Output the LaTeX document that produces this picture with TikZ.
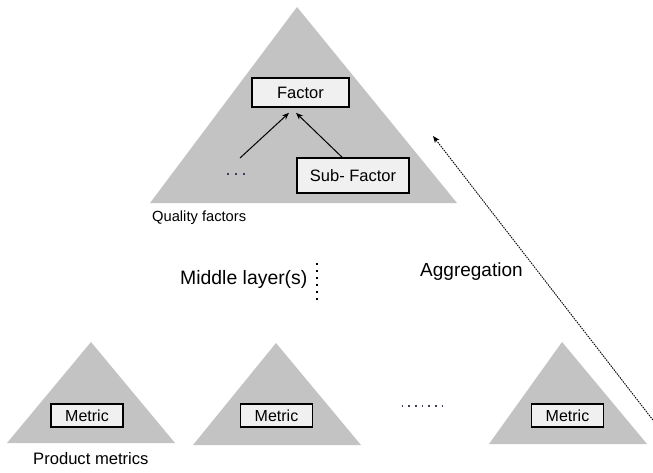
\documentclass[tikz,border=0pt]{standalone}
\usepackage{fontspec}
\setmainfont{Liberation Sans}
\usetikzlibrary{arrows.meta}
\definecolor{trigray}{RGB}{195,195,195}
\definecolor{boxgray}{RGB}{240,240,240}
\definecolor{dotblue}{RGB}{60,60,100}
\tikzset{
  pyramid/.style={fill=trigray},
  itembox/.style={draw, line width=1.7pt, fill=boxgray, inner sep=0pt},
  dotrow/.style={dotblue, line width=1.6pt, dash pattern=on 1.6pt off #1},
  lbl/.style={inner sep=0pt, anchor=west}
}
\begin{document}
\begin{tikzpicture}[x=1pt, y=-1pt]
    \useasboundingbox (0,0) rectangle (653,472);
    % quality factors pyramid
    \fill[pyramid] (150,203) -- (457,203) -- (297,7) -- cycle;
    \node[itembox, minimum width=97pt, minimum height=29pt, font=\fontsize{16.5}{18}\selectfont] (factor) at (300.5,92.5) {Factor};
    \node[itembox, minimum width=112pt, minimum height=35pt, font=\fontsize{16.5}{18}\selectfont] (subfactor) at (353,175.5) {Sub- Factor};
    \coordinate (topdots) at (240,158);
    \draw[dotrow=6.4pt] (227.2,174) -- (246,174);
    \draw[line width=1pt, -{Stealth[length=7pt,width=5.5pt]}] (topdots) -- ([xshift=-11.5pt,yshift=-5pt]factor.south);
    \draw[line width=1pt, -{Stealth[length=7pt,width=5.5pt]}] ([xshift=-11pt]subfactor.north) -- ([xshift=-4.5pt,yshift=-5pt]factor.south);
    \node[lbl, font=\fontsize{14.7}{16}\selectfont] (qf) at (152,218) {Quality factors};
    % middle layer
    \node[lbl, font=\fontsize{19.4}{22}\selectfont] (middle) at (180,279) {Middle layer(s)};
    \draw[line width=1.6pt, dash pattern=on 1.6pt off 5.4pt] (317,263) -- (317,301);
    \node[lbl, font=\fontsize{19}{22}\selectfont] (aggr) at (420,272) {Aggregation};
    % product metrics pyramids
    \fill[pyramid] (7,443) -- (175,443) -- (91,342) -- cycle;
    \fill[pyramid] (193,445) -- (361,445) -- (276,343) -- cycle;
    \fill[pyramid] (489,444) -- (647,444) -- (562,342) -- cycle;
    \foreach \name/\cx in {mone/87, mtwo/276.5, mthree/567.5}
      \node[itembox, minimum width=72pt, minimum height=23pt, font=\fontsize{16}{18}\selectfont] (\name) at (\cx,415.5) {Metric};
    \draw[dotrow=5.1pt] (401.5,406) -- (444,406);
    \node[lbl, font=\fontsize{16.6}{18}\selectfont] (pm) at (33,459) {Product metrics};
    % aggregation arrow
    \coordinate (aggrfrom) at (656,424);
    \coordinate (aggrto) at (433,136);
    \draw[line width=0.9pt, dash pattern=on 1.5pt off 1pt, -{Stealth[length=7pt,width=5.5pt]}] (aggrfrom) -- (aggrto);
\end{tikzpicture}
\end{document}
